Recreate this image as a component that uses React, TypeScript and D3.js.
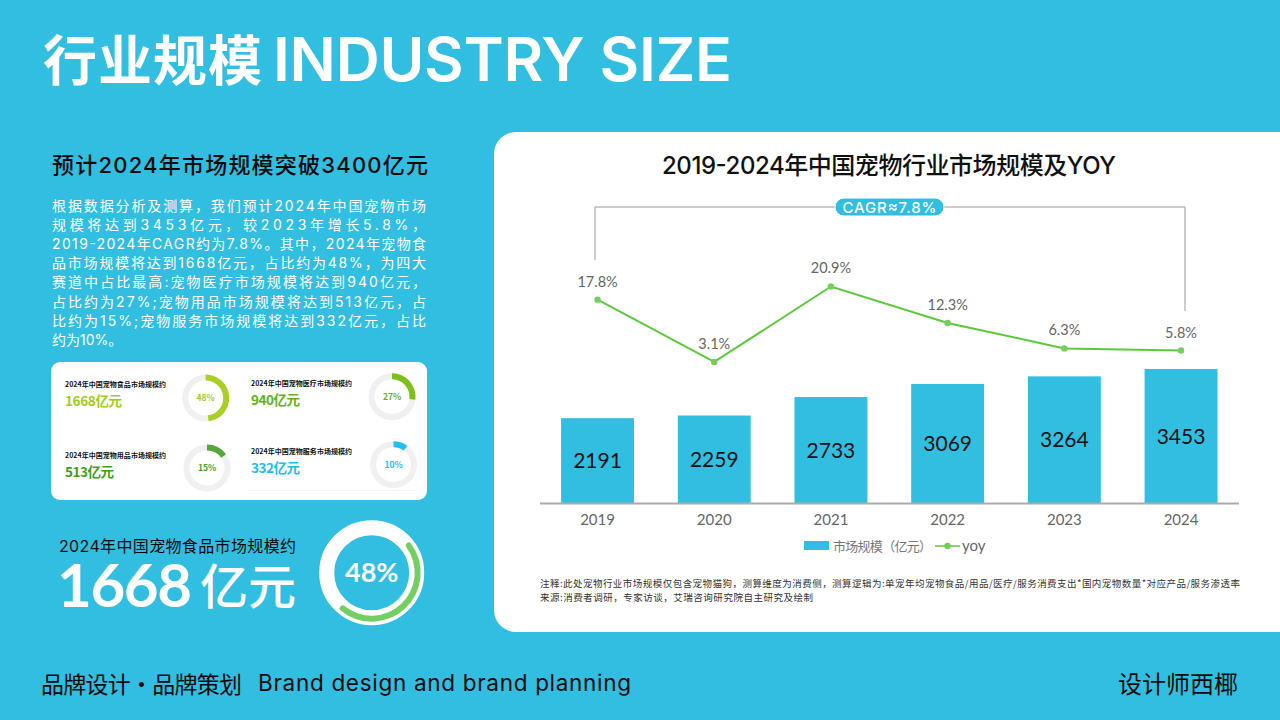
import React from "react";
import * as d3 from "d3";

const years = ["2019", "2020", "2021", "2022", "2023", "2024"];
const marketSize = [2191, 2259, 2733, 3069, 3264, 3453];
const yoy = [17.8, 3.1, 20.9, 12.3, 6.3, 5.8];
const yoyLabels = ["17.8%", "3.1%", "20.9%", "12.3%", "6.3%", "5.8%"];
const bodyLines = [
  "根据数据分析及测算，我们预计2024年中国宠物市场",
  "规模将达到3453亿元，较2023年增长5.8%，",
  "2019-2024年CAGR约为7.8%。其中，2024年宠物食",
  "品市场规模将达到1668亿元，占比约为48%，为四大",
  "赛道中占比最高:宠物医疗市场规模将达到940亿元，",
  "占比约为27%;宠物用品市场规模将达到513亿元，占",
  "比约为15%;宠物服务市场规模将达到332亿元，占比",
];
const bodyLast = "约为10%。";
const segTitles = ["2024年中国宠物食品市场规模约", "2024年中国宠物医疗市场规模约", "2024年中国宠物用品市场规模约", "2024年中国宠物服务市场规模约"];
const segValues = ["1668亿元", "940亿元", "513亿元", "332亿元"];
const segShares = [48, 27, 15, 10];
const segColors = ["#A8D024", "#7CBF1E", "#57A83C", "#22C0F2"];
const segTextColors = ["#A0CC1E", "#62B01A", "#3E9E1E", "#1DBDF2"];
const notes = [
  "注释:此处宠物行业市场规模仅包含宠物猫狗，测算维度为消费侧，测算逻辑为:单宠年均宠物食品/用品/医疗/服务消费支出*国内宠物数量*对应产品/服务渗透率",
  "来源:消费者调研，专家访谈，艾瑞咨询研究院自主研究及绘制",
];

const CJK = "'Noto Sans CJK SC', sans-serif";
const LAT = "Lato, 'Noto Sans CJK SC', sans-serif";
const INT = "Inter, 'Noto Sans CJK SC', sans-serif";
const BLUE = "#32BEE1";

const x = d3.scaleBand<string>().domain(years).range([539.2, 1239.4]).paddingInner(0.375).paddingOuter(0.1875);
const yBar = d3.scaleLinear().domain([0, 3453]).range([503.5, 369]);
const yLine = d3.scaleLinear().domain([0, 20]).range([375.1, 290.3]);
const cx = (y: string) => (x(y) as number) + x.bandwidth() / 2;
const linePath = d3.line<number>().x((_, i) => cx(years[i])).y((d) => yLine(d));
const TAU = Math.PI * 2;

const smallPos = [
  { tx: 65, ty1: 387, ty2: 406, w: 57, dx: 205.7, dy: 398 },
  { tx: 251, ty1: 386, ty2: 405, w: 49, dx: 392, dy: 396.7 },
  { tx: 65, ty1: 458, ty2: 477, w: 49, dx: 207, dy: 468 },
  { tx: 251, ty1: 454, ty2: 473, w: 49, dx: 393.5, dy: 464.7 },
];

function Gauge({ i }: { i: number }) {
  const p = smallPos[i];
  const arc = d3.arc<any>().innerRadius(17.5).outerRadius(23.5);
  return (
    <g transform={`translate(${p.dx},${p.dy})`}>
      <path d={arc({ startAngle: 0, endAngle: TAU }) as string} fill="#F0F0F0" />
      <path d={arc({ startAngle: 0, endAngle: (TAU * segShares[i]) / 100 }) as string} fill={segColors[i]} />
      <text y={3} textAnchor="middle" fontFamily={CJK} fontSize={8.5} fontWeight={700} fill={segTextColors[i]}>{segShares[i]}%</text>
    </g>
  );
}

export default function App() {
  const bigArc = d3.arc<any>().innerRadius(43).outerRadius(49).cornerRadius(3);
  const a0 = (50 / 360) * TAU;
  return (
    <svg width={1280} height={720} viewBox="0 0 1280 720" style={{ position: "fixed", left: 0, top: 0, display: "block" }}>
      <rect width={1280} height={720} fill={BLUE} />

      <text x={43} y={81} fontFamily={CJK} fontSize={54} fontWeight={700} fill="#fff" textLength={219}>行业规模</text>
      <text x={273} y={81} fontFamily="Inter, sans-serif" fontSize={61} fontWeight={600} fill="#fff" textLength={459}>INDUSTRY SIZE</text>

      <text x={52} y={173} fontFamily={INT} fontSize={22} fontWeight={500} fill="#0a0a0a" textLength={376}>预计2024年市场规模突破3400亿元</text>
      {bodyLines.map((l, i) => (
        <text key={i} x={52} y={211 + i * 19.1} fontFamily={INT} fontSize={14} fill="#fff" textLength={374} lengthAdjust="spacing">{l}</text>
      ))}
      <text x={52} y={345} fontFamily={INT} fontSize={14} fill="#fff">{bodyLast}</text>

      <rect x={51} y={362} width={376} height={138} rx={9} fill="#fff" />
      <line x1={247} x2={417} y1={490.5} y2={490.5} stroke="#F4F4F4" />
      {segTitles.map((t, i) => (
        <g key={i}>
          <text x={smallPos[i].tx} y={smallPos[i].ty1} fontFamily={CJK} fontSize={7} fontWeight={700} fill="#111" textLength={101}>{t}</text>
          <text x={smallPos[i].tx} y={smallPos[i].ty2} fontFamily={CJK} fontSize={13.5} fontWeight={700} fill={segTextColors[i]} textLength={smallPos[i].w}>{segValues[i]}</text>
          <Gauge i={i} />
        </g>
      ))}

      <text x={59} y={552} fontFamily={INT} fontSize={16} fill="#0a0a0a" textLength={237}>2024年中国宠物食品市场规模约</text>
      <text x={57} y={607} fontFamily={LAT} fontSize={60} fontWeight={700} fill="#fff" textLength={135}>1668</text>
      <text x={200} y={604} fontFamily={CJK} fontSize={48} fontWeight={500} fill="#fff">亿元</text>
      <g transform="translate(371.7,572.7)">
        <circle r={45} fill="none" stroke="#fff" strokeWidth={15} />
        <path d={bigArc({ startAngle: a0, endAngle: a0 + (TAU * segShares[0]) / 100 }) as string} fill="#74CF62" />
        <text y={9.5} textAnchor="middle" fontFamily={LAT} fontSize={27} fontWeight={700} fill="#fff">48%</text>
      </g>

      <path d="M516,132H1280V632H516A22,22 0 0 1 494,610V154A22,22 0 0 1 516,132Z" fill="#fff" />
      <text x={889} y={174} textAnchor="middle" fontFamily={INT} fontSize={24} fontWeight={500} fill="#111" textLength={454}>2019-2024年中国宠物行业市场规模及YOY</text>

      <path d="M595,260V207H1185V311" fill="none" stroke="#9A9A9A" strokeWidth={1} />
      <rect x={835} y={198} width={109} height={18} rx={9} fill={BLUE} stroke="#fff" strokeWidth={1} />
      <text x={889.5} y={212.5} textAnchor="middle" fontFamily={INT} fontSize={15} fontWeight={500} fill="#fff" textLength={94}>CAGR≈7.8%</text>

      {marketSize.map((v, i) => (
        <g key={years[i]}>
          <rect x={x(years[i])} y={yBar(v)} width={x.bandwidth()} height={yBar(0) - yBar(v)} fill={BLUE} />
          <text x={cx(years[i])} y={(yBar(v) + yBar(0)) / 2 + 7.5} textAnchor="middle" fontFamily={LAT} fontSize={21} fill="#111">{v}</text>
          <text x={cx(years[i])} y={525} textAnchor="middle" fontFamily={LAT} fontSize={15} fill="#666">{years[i]}</text>
        </g>
      ))}
      <line x1={540} x2={1239} y1={503.5} y2={503.5} stroke="#ABABAB" strokeWidth={2} />

      <path d={linePath(yoy) as string} fill="none" stroke="#5CC83C" strokeWidth={2} />
      {yoy.map((v, i) => (
        <g key={i}>
          <circle cx={cx(years[i])} cy={yLine(v)} r={3.2} fill="#74CE5C" />
          <text x={cx(years[i])} y={yLine(v) - 13} textAnchor="middle" fontFamily={LAT} fontSize={14.5} fill="#666">{yoyLabels[i]}</text>
        </g>
      ))}

      <rect x={804} y={541} width={25} height={9} fill={BLUE} />
      <text x={833} y={551} fontFamily={CJK} fontSize={13} fill="#777" textLength={99}>市场规模（亿元）</text>
      <line x1={935} x2={960} y1={546} y2={546} stroke="#5CC83C" strokeWidth={1.5} />
      <circle cx={947.5} cy={546} r={3.2} fill="#74CE5C" />
      <text x={962} y={551} fontFamily={LAT} fontSize={15} fill="#666">yoy</text>

      <text x={540} y={587} fontFamily={CJK} fontSize={9.5} fill="#333" textLength={700}>{notes[0]}</text>
      <text x={540} y={601} fontFamily={CJK} fontSize={9.5} fill="#333" textLength={273}>{notes[1]}</text>

      <text x={41} y={693} fontFamily={CJK} fontSize={23} fill="#0a0a0a" textLength={201}>品牌设计·品牌策划</text>
      <text x={258} y={691} fontFamily={INT} fontSize={22.5} fill="#0a0a0a" textLength={373}>Brand design and brand planning</text>
      <text x={1118} y={693} fontFamily={CJK} fontSize={24} fill="#0a0a0a">设计师西椰</text>
    </svg>
  );
}
